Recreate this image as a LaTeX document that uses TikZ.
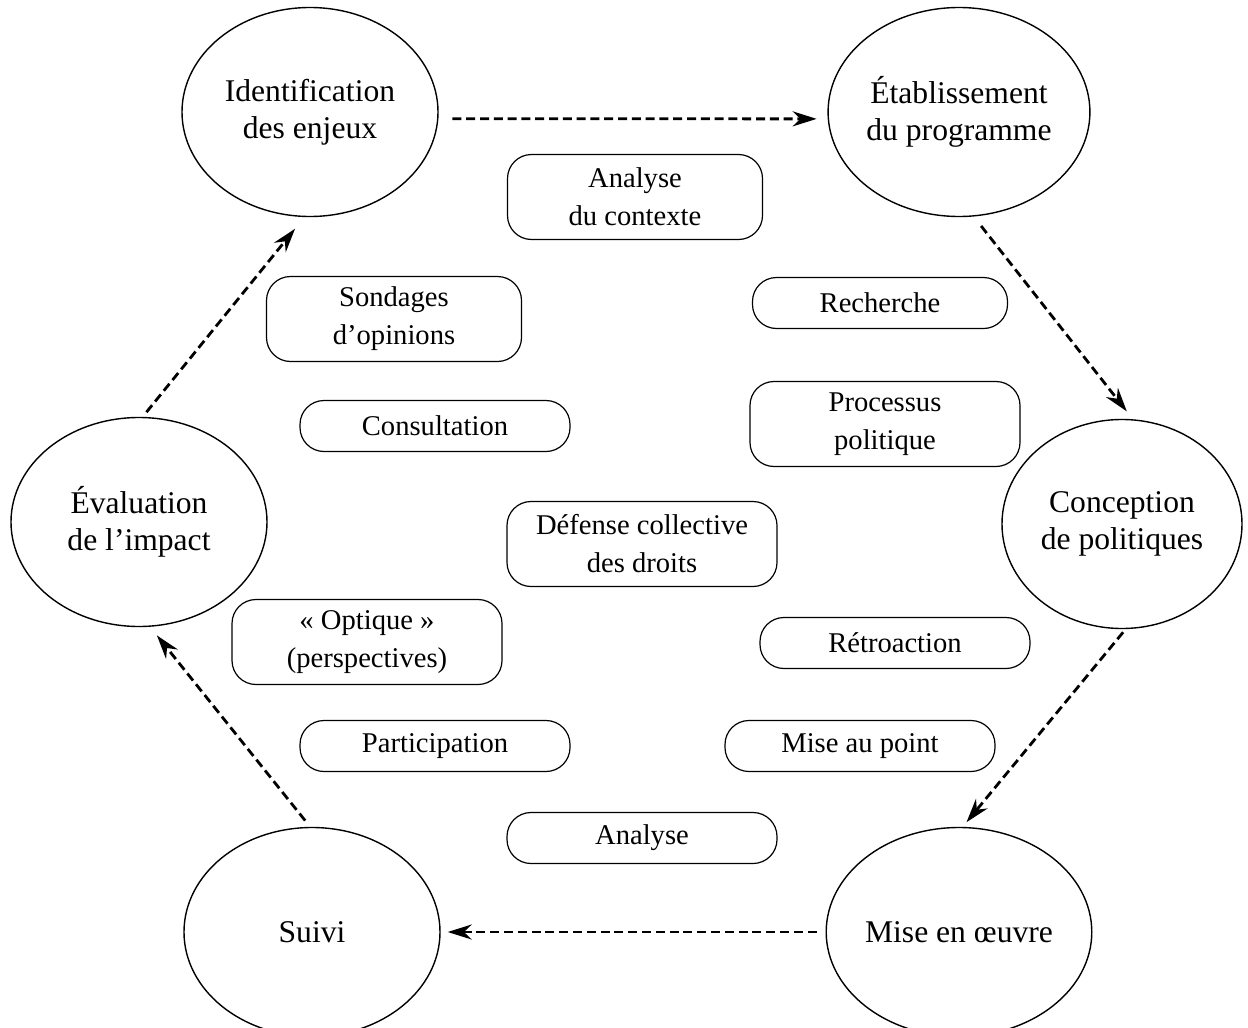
\documentclass[tikz,border=0pt]{standalone}
\usepackage{fontspec}
\setmainfont{Liberation Serif}
\usepackage{tikz}
\usetikzlibrary{arrows.meta,shapes.geometric}
\tikzset{
  stage/.style={ellipse, draw=black, line width=0.7pt, minimum width=128pt, minimum height=104.5pt,
    inner sep=0pt, align=center, font=\fontsize{15.8}{18.5}\selectfont},
  pill/.style={rectangle, rounded corners=12pt, draw=black, line width=0.6pt, minimum width=135pt,
    minimum height=25.5pt, inner sep=0pt, align=center, font=\fontsize{14.3}{19}\selectfont},
  narrow/.style={minimum width=127.5pt},
  tall/.style={minimum height=42.5pt},
  flow/.style={draw=black, line width=1.4pt, dash pattern=on 4.5pt off 2.4pt,
    -{Stealth[length=12pt,width=7.5pt]}}
}
\begin{document}
\begin{tikzpicture}[x=0.5pt,y=-0.5pt]
  \useasboundingbox (0,0) rectangle (1248,1028);
  \clip (0,0) rectangle (1248,1028);

  % stages of the cycle
  \node[stage] (ident) at (310,112) {Identification\\des enjeux};
  \node[stage] (etab)  at (959,112) {Établissement\\du programme};
  \node[stage, minimum width=120pt] (conc) at (1122,524) {Conception\\de politiques};
  \node[stage] (mise)  at (959,932) {Mise en œuvre};
  \node[stage] (suivi) at (312,932) {Suivi};
  \node[stage] (evalu) at (139,522) {Évaluation\\de l’impact};

  % tools in the middle
  \node[pill,narrow,tall] (ctx)   at (635,197) {Analyse\\du contexte};
  \node[pill,narrow,tall] (sond)  at (394,319) {Sondages\\d’opinions};
  \node[pill,narrow]      (rech)  at (880,303) {Recherche};
  \node[pill]             (cons)  at (435,426) {Consultation};
  \node[pill,tall]        (proc)  at (885,424) {Processus\\politique};
  \node[pill,tall]        (def)   at (642,544) {Défense collective\\des droits};
  \node[pill,tall]        (opt)   at (367,642) {«~Optique~»\\(perspectives)};
  \node[pill]             (retro) at (895,643) {Rétroaction};
  \node[pill]             (part)  at (435,746) {Participation};
  \node[pill]             (point) at (860,746) {Mise au point};
  \node[pill]             (anal)  at (642,838) {Analyse};

  % cycle arrows
  \draw[flow, shorten <=7pt, shorten >=5.5pt] (ident.-3) -- (etab.183);
  \draw[flow, shorten <=6pt, shorten >=5pt] (etab.-82) -- (conc.84);
  \draw[flow, shorten <=2pt, shorten >=3pt] (conc.-88) -- (mise.88);
  \draw[flow, shorten <=4.5pt, shorten >=3.5pt] (mise.180) -- (suivi.0);
  \draw[flow, shorten <=4pt, shorten >=5.5pt] (suivi.91) -- (evalu.-84);
  \draw[flow, shorten <=3pt, shorten >=7.5pt] (evalu.88) -- (ident.-93);
\end{tikzpicture}
\end{document}
